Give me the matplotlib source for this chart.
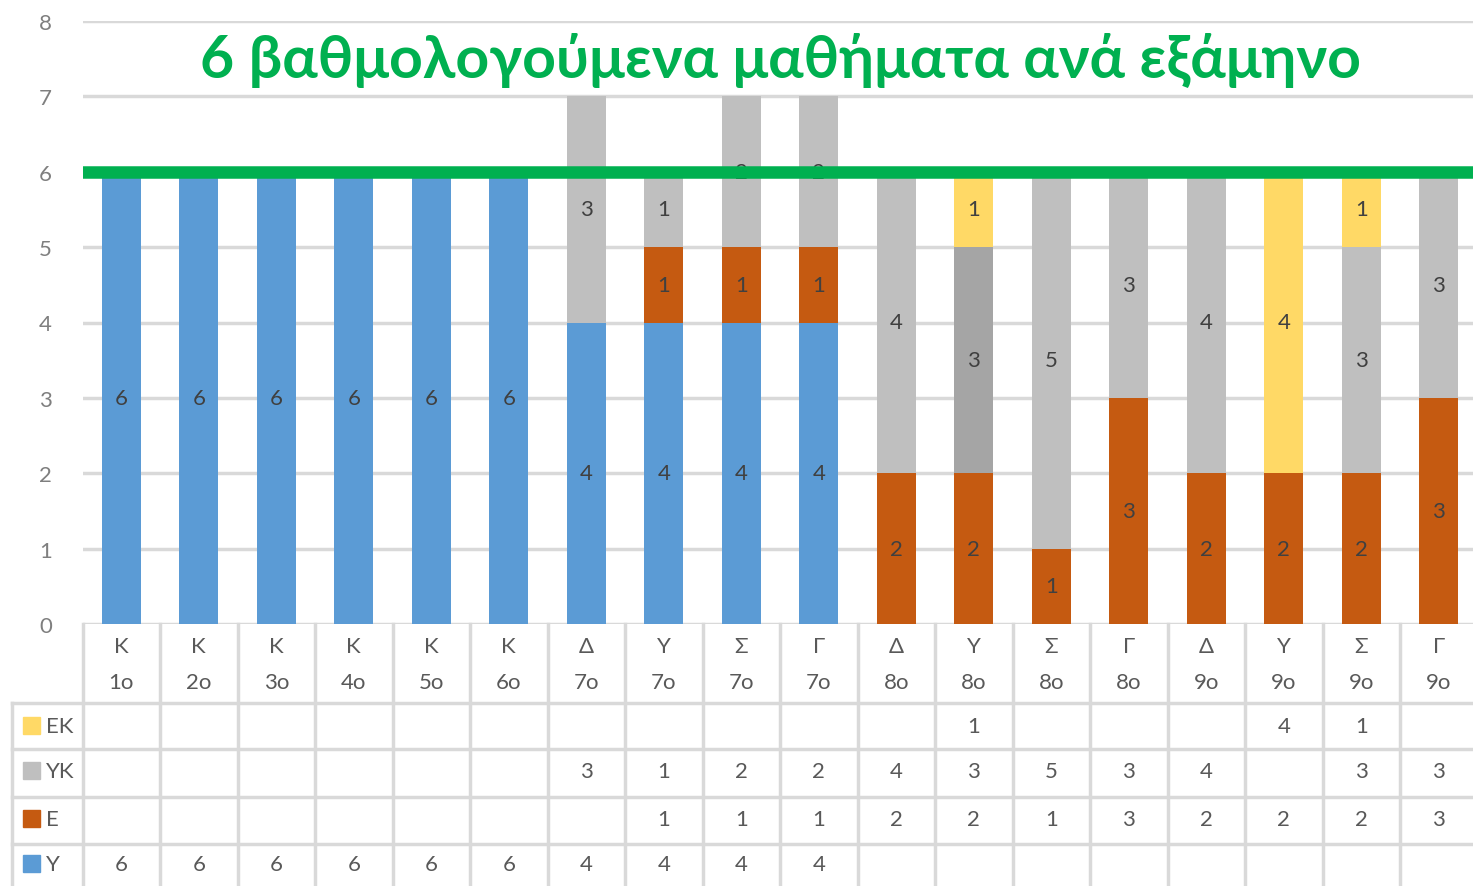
import matplotlib.pyplot as plt
from matplotlib.transforms import blended_transform_factory
from matplotlib.lines import Line2D
from matplotlib.patches import Rectangle

plt.rcParams['font.family'] = ['Lato', 'DejaVu Sans']

# categories: (letter, semester)
cat_letters = ['Κ', 'Κ', 'Κ', 'Κ', 'Κ', 'Κ', 'Δ', 'Υ', 'Σ', 'Γ',
               'Δ', 'Υ', 'Σ', 'Γ', 'Δ', 'Υ', 'Σ', 'Γ']
cat_sems = ['1ο', '2ο', '3ο', '4ο', '5ο', '6ο', '7ο', '7ο', '7ο', '7ο',
            '8ο', '8ο', '8ο', '8ο', '9ο', '9ο', '9ο', '9ο']

# None = empty cell
Y = [6, 6, 6, 6, 6, 6, 4, 4, 4, 4, None, None, None, None, None, None, None, None]
E = [None, None, None, None, None, None, None, 1, 1, 1, 2, 2, 1, 3, 2, 2, 2, 3]
YK = [None, None, None, None, None, None, 3, 1, 2, 2, 4, 3, 5, 3, 4, None, 3, 3]
EK = [None, None, None, None, None, None, None, None, None, None, None, 1, None, None, None, 4, 1, None]

series_names = ['Υ', 'Ε', 'ΥΚ', 'ΕΚ']
series_vals = [Y, E, YK, EK]
series_colors = ['#5B9BD5', '#C55A11', '#BFBFBF', '#FFD966']
# one point in ΥΚ has a darker fill
special_idx = 11
special_color = '#A5A5A5'

title = '6 βαθμολογούμενα μαθήματα ανά εξάμηνο'
limit = 6

W, H = 1473, 887
fig = plt.figure(figsize=(W / 100, H / 100), dpi=100)


def fy(py):
    return 1 - py / H


def fx(px):
    return px / W


ax = fig.add_axes([fx(82.5), fy(625), fx(1395), 603 / H])
ax.set_xlim(-0.5, 17.5)
ax.set_ylim(0, 8)
for s in ax.spines.values():
    s.set_visible(False)
ax.set_yticks(range(9))
ax.tick_params(axis='y', length=0, pad=22, labelcolor='#7F7F7F', labelsize=16)
ax.set_xticks([])
ax.grid(axis='y', color='#D9D9D9', lw=2.5, zorder=0)
ax.set_axisbelow(True)

x = list(range(len(cat_sems)))
bottom = [0] * len(x)
for name, vals, col in zip(series_names, series_vals, series_colors):
    h = [v if v is not None else 0 for v in vals]
    colors = [col] * len(x)
    if name == 'ΥΚ':
        colors[special_idx] = special_color
    ax.bar(x, h, 0.5, bottom=bottom, color=colors, zorder=2)
    for i, v in enumerate(vals):
        if v:
            ax.text(i, bottom[i] + v / 2, str(v), ha='center', va='center',
                    fontsize=16, color='#404040', zorder=3)
    bottom = [b + hh for b, hh in zip(bottom, h)]

ax.axhline(limit, color='#00B050', lw=9, zorder=4)
fig.text(fx(781), fy(78), title, ha='center', va='baseline', fontsize=42.5,
         fontweight='bold', color='#00B050')

# data table
tr = blended_transform_factory(ax.transData, fig.transFigure)
line_c = '#D9D9D9'
n = len(x)
for i in range(n + 1):
    fig.add_artist(Line2D([i - 0.5, i - 0.5], [fy(625), fy(900)], color=line_c,
                          lw=2.5, transform=tr))
for py in [704, 750, 798, 845]:
    fig.add_artist(Line2D([fx(12), fx(1500)], [fy(py), fy(py)], color=line_c,
                          lw=2.5, transform=fig.transFigure))
fig.add_artist(Line2D([fx(12), fx(12)], [fy(704), fy(900)], color=line_c,
                      lw=2.5, transform=fig.transFigure))

txt_c = '#595959'
for i in x:
    fig.text(i, fy(647), cat_letters[i], transform=tr, ha='center', va='center',
             fontsize=16, color=txt_c)
    fig.text(i, fy(683), cat_sems[i], transform=tr, ha='center', va='center',
             fontsize=16, color=txt_c)

row_y = {'ΕΚ': 727, 'ΥΚ': 772, 'Ε': 820, 'Υ': 865}
for name, vals, col in zip(series_names, series_vals, series_colors):
    py = row_y[name]
    fig.add_artist(Rectangle((fx(23), fy(py + 8)), fx(17), 17 / H, color=col,
                             transform=fig.transFigure))
    fig.text(fx(46), fy(py), name, ha='left', va='center', fontsize=16, color=txt_c)
    for i, v in enumerate(vals):
        if v is not None:
            fig.text(i, fy(py), str(v), transform=tr, ha='center', va='center',
                     fontsize=16, color=txt_c)

fig.savefig('out.png', dpi=100)
